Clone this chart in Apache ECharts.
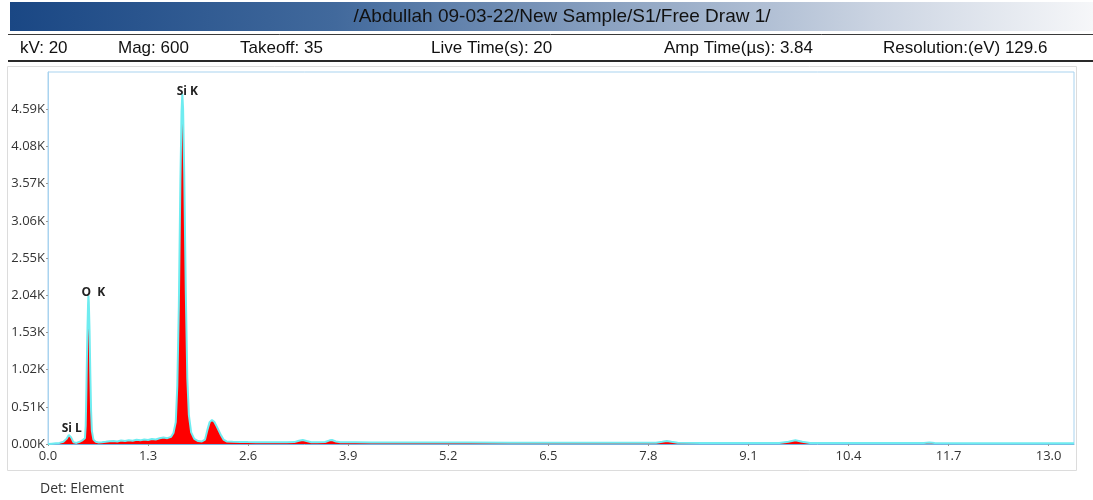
<!DOCTYPE html>
<html>
<head>
<meta charset="utf-8">
<script src="https://cdn.jsdelivr.net/npm/echarts@6/dist/echarts.min.js"></script>
<style>
  html, body { margin: 0; padding: 0; background: #ffffff; }
  #chart { width: 1093px; height: 500px; }
</style>
</head>
<body>
<div id="chart"></div>
<script>
// ---- EDS spectrum: header, acquisition settings, energy (keV) vs counts ----
const title = '/Abdullah 09-03-22/New Sample/S1/Free Draw 1/';
const acquisition = ['kV: 20', 'Mag: 600', 'Takeoff: 35', 'Live Time(s): 20', 'Amp Time(µs): 3.84', 'Resolution:(eV) 129.6'];
const detector = 'Det: Element';

const energyKeV = [
  0.00, 0.05, 0.10, 0.15, 0.20, 0.24, 0.27, 0.30, 0.33, 0.37, 0.41, 0.44, 0.46,
  0.48, 0.49, 0.50, 0.51, 0.52, 0.525, 0.53, 0.54, 0.55, 0.56, 0.57, 0.59, 0.62,
  0.66, 0.70, 0.75, 0.80, 0.85, 0.90, 0.95, 1.00, 1.05, 1.10, 1.15, 1.20, 1.25,
  1.30, 1.35, 1.40, 1.45, 1.50, 1.55, 1.60, 1.63, 1.66, 1.68, 1.70, 1.72, 1.735,
  1.745, 1.755, 1.77, 1.79, 1.81, 1.83, 1.86, 1.90, 1.95, 2.00, 2.04, 2.07, 2.10,
  2.13, 2.16, 2.19, 2.22, 2.25, 2.28, 2.32, 2.40, 2.50, 2.60, 2.70, 2.80, 2.90,
  3.00, 3.10, 3.20, 3.26, 3.31, 3.36, 3.42, 3.50, 3.60, 3.66, 3.69, 3.74, 3.80,
  4.00, 4.20, 4.40, 4.60, 4.80, 5.00, 5.50, 6.00, 6.50, 7.00, 7.50, 7.90, 7.98,
  8.04, 8.10, 8.18, 8.50, 9.00, 9.50, 9.62, 9.71, 9.80, 9.90, 10.50, 11.00, 11.38,
  11.45, 11.52, 12.00, 12.50, 13.00, 13.33
];
const counts = [
  0, 5, 10, 15, 30, 70, 125, 90, 25, 15, 30, 45, 50,
  80, 250, 800, 1450, 1900, 2040, 1950, 1550, 950, 450, 180, 60, 30,
  22, 25, 30, 38, 42, 35, 48, 40, 52, 45, 58, 50, 62,
  55, 68, 62, 78, 88, 80, 98, 150, 300, 800, 1900, 3600, 4550,
  4800, 4600, 3700, 2100, 900, 400, 160, 70, 40, 35, 60, 190, 300,
  330, 305, 245, 180, 115, 60, 35, 30, 28, 26, 25, 25, 24,
  24, 24, 26, 45, 55, 40, 24, 24, 28, 50, 55, 35, 23,
  23, 22, 22, 21, 20, 20, 19, 18, 18, 17, 16, 16, 30,
  42, 30, 16, 15, 15, 14, 30, 50, 30, 14, 13, 12, 14,
  20, 14, 11, 10, 10, 10
];

// Identified lines, anchored at their peak tops
const peakNames = ['Si L', 'O  K', 'Si K'];
const peakEnergy = [0.27, 0.525, 1.745];
const peakCounts = [125, 2040, 4800];

const spectrum = energyKeV.map((e, i) => [e, counts[i]]);

// label nudges relative to each peak top (px)
const labelOffsets = [[3, -7], [5, -3], [5, -3]];
const infoX = [20, 118, 240, 431, 664, 883];

const chart = echarts.init(document.getElementById('chart'), null, { renderer: 'canvas' });

const uiFont = '"Liberation Sans", Arial, sans-serif';
const axisFont = '"Open Sans", "Noto Sans", sans-serif';

const graphics = [
  // panel frame around the plot
  { type: 'rect', z: -10, shape: { x: 7.5, y: 66.5, width: 1069, height: 404 },
    style: { fill: 'none', stroke: '#dcdcdc', lineWidth: 1 } },
  // title bar
  { type: 'rect', shape: { x: 10, y: 2, width: 1083, height: 29 },
    style: { fill: new echarts.graphic.LinearGradient(0, 0, 1, 0, [
      { offset: 0, color: '#1a4784' },
      { offset: 0.3, color: '#41699c' },
      { offset: 0.55, color: '#8aa1c0' },
      { offset: 0.8, color: '#cbd4e2' },
      { offset: 1, color: '#f6f7f9' }
    ]) } },
  { type: 'text', x: 562, y: 17, style: { text: title, font: '19px ' + uiFont, fill: '#111',
    align: 'center', verticalAlign: 'middle' } },
  // rules around the settings row
  { type: 'line', shape: { x1: 8, y1: 34.5, x2: 1093, y2: 34.5 }, style: { stroke: '#3a3a3a', lineWidth: 1 } },
  { type: 'line', shape: { x1: 8, y1: 61, x2: 1093, y2: 61 }, style: { stroke: '#2a2a2a', lineWidth: 2 } },
  { type: 'text', x: 40, y: 489, style: { text: detector, font: '14px ' + axisFont, fill: '#333',
    align: 'left', verticalAlign: 'middle' } }
];
acquisition.forEach((t, i) => {
  graphics.push({ type: 'text', x: infoX[i], y: 48, style: { text: t, font: '17px ' + uiFont,
    fill: '#111', align: 'left', verticalAlign: 'middle' } });
});

chart.setOption({
  animation: false,
  backgroundColor: '#ffffff',
  graphic: graphics,
  grid: { left: 48, top: 72, right: 19, bottom: 56, show: true,
    borderColor: '#a9d3ef', borderWidth: 1, backgroundColor: 'transparent' },
  xAxis: {
    type: 'value', min: 0, max: 13.33, interval: 1.3,
    axisLine: { show: true, lineStyle: { color: '#78b0e0', width: 1 } },
    axisTick: { show: true, length: 2, lineStyle: { color: '#999' } },
    splitLine: { show: false },
    axisLabel: { showMaxLabel: false, margin: 6, color: '#333', fontFamily: axisFont, fontSize: 13,
      formatter: v => v.toFixed(1) }
  },
  yAxis: {
    type: 'value', min: 0, max: 5100, interval: 510,
    axisLine: { show: true, lineStyle: { color: '#a9d3ef', width: 1 } },
    axisTick: { show: true, length: 2, lineStyle: { color: '#999' } },
    splitLine: { show: false },
    axisLabel: { showMaxLabel: false, margin: 3, color: '#333', fontFamily: axisFont, fontSize: 13,
      formatter: v => (v / 1000).toFixed(2) + 'K' }
  },
  series: [{
    type: 'line',
    data: spectrum,
    showSymbol: false,
    lineStyle: { color: '#6fecf0', width: 2 },
    areaStyle: { color: '#ff0000', opacity: 1 },
    markPoint: {
      symbol: 'circle', symbolSize: 1,
      itemStyle: { color: 'rgba(0,0,0,0)' },
      label: { show: true, position: 'top', distance: 0, color: '#222',
        fontFamily: axisFont, fontSize: 12, fontWeight: 'bold', formatter: p => p.name },
      data: peakNames.map((n, i) => ({ name: n, coord: [peakEnergy[i], peakCounts[i]],
        label: { offset: [labelOffsets[i][0], labelOffsets[i][1] + 7] } }))
    }
  }]
});
</script>
</body>
</html>
